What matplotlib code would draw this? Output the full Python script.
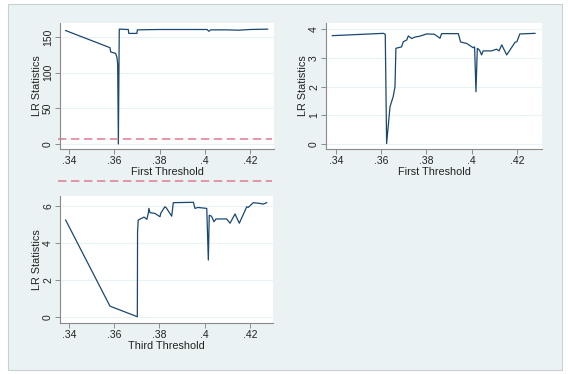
import matplotlib
matplotlib.use("Agg")
import matplotlib.pyplot as plt
from matplotlib.patches import Rectangle

plt.rcParams['font.family'] = ['Liberation Sans', 'DejaVu Sans']

# first threshold, LR statistics (top left)
x_first = [.3385, .3581, .3584, .3606, .3612, .3615, .3618, .3622, .3662, .3664, .3700, .3702,
           .3800, .4010, .4018, .4026, .4100, .4150, .4200, .4278]
lr_first = [159, 135, 129, 127, 121, 112, 0, 161, 160.5, 155, 155, 160,
            160.5, 160.5, 158, 160, 160, 159.5, 160.5, 161]

# first threshold, second search (top right)
x_first2 = [.3384, .3609, .3618, .3624, .3639, .3653, .3661, .3665, .3690, .3698, .3713, .3720,
            .3735, .3749, .3770, .3801, .3835, .3860, .3867, .3941, .3951, .3978, .4007, .4013,
            .4019, .4025, .4035, .4044, .4051, .4088, .4110, .4121, .4133, .4155, .4192, .4200,
            .4213, .4280]
lr_first2 = [3.77, 3.85, 3.82, 0.02, 1.30, 1.65, 1.99, 3.33, 3.38, 3.56, 3.62, 3.76,
             3.67, 3.72, 3.75, 3.83, 3.82, 3.68, 3.84, 3.84, 3.55, 3.50, 3.35, 3.38,
             1.82, 3.33, 3.26, 3.10, 3.24, 3.24, 3.30, 3.24, 3.45, 3.10, 3.54, 3.56,
             3.83, 3.85]

# third threshold (bottom left)
x_third = [.3385, .3581, .3702, .3703, .3706, .3720, .3732, .3744, .3751, .3753, .3758, .3780,
           .3802, .3806, .3824, .3830, .3854, .3861, .3950, .3957, .3970, .4009, .4016, .4020,
           .4030, .4041, .4050, .4097, .4112, .4134, .4153, .4186, .4192, .4215, .4244, .4258,
           .4274]
lr_third = [5.24, 0.59, 0.02, 4.61, 5.24, 5.33, 5.40, 5.28, 5.64, 5.87, 5.64, 5.60,
            5.42, 5.62, 5.96, 5.90, 5.45, 6.18, 6.20, 5.87, 5.92, 5.87, 3.08, 5.50,
            5.45, 5.15, 5.30, 5.30, 5.07, 5.57, 5.07, 5.96, 5.92, 6.18, 6.14, 6.10,
            6.18]

xticks = [.34, .36, .38, .40, .42]
xtick_labels = ['.34', '.36', '.38', '.4', '.42']
crit_lines = [7.35, -52]   # red dashed reference lines of the first graph

bg = '#eaf2f3'
navy = '#1a476f'

fig = plt.figure(figsize=(5.68, 3.74), dpi=100, facecolor='white')
fig.add_artist(Rectangle((8 / 568, 4 / 374), 554 / 568, 366 / 374, transform=fig.transFigure,
                         facecolor=bg, edgecolor='#c8d0d2', linewidth=0.8, zorder=-10))


def style(ax, yticks, xlabel, ylim, xlim):
    ax.set_facecolor('white')
    ax.set_xlim(xlim)
    ax.set_ylim(ylim)
    ax.set_xticks(xticks)
    ax.set_xticklabels(xtick_labels)
    ax.set_yticks(yticks)
    ax.set_yticklabels([str(t) for t in yticks], rotation=90, va='center')
    for s in ['top', 'right']:
        ax.spines[s].set_visible(False)
    for s in ['left', 'bottom']:
        ax.spines[s].set_color('#8a8a8a')
        ax.spines[s].set_linewidth(0.8)
    ax.tick_params(axis='both', labelsize=7.5, length=3.5, width=0.7, color='#8a8a8a',
                   pad=1.5, labelcolor='#222222')
    ax.grid(axis='y', color=bg, linewidth=0.8)
    ax.set_axisbelow(True)
    ax.set_xlabel(xlabel, fontsize=7.8, labelpad=0.5, color='#222222')
    ax.set_ylabel('LR Statistics', fontsize=7.8, labelpad=1, color='#222222')


ax1 = fig.add_axes([60 / 568, 1 - 149 / 374, 214 / 568, 126 / 374])
ax1.plot(x_first, lr_first, color=navy, linewidth=0.9)
for c in crit_lines:
    ax1.axhline(c, xmin=-0.01, xmax=0.99, color='#e07a8f', linestyle=(0, (5.5, 3)),
                linewidth=1.1, clip_on=False)
style(ax1, [0, 50, 100, 150], 'First Threshold', (-7, 169.6), (.336, .4306))

ax2 = fig.add_axes([326 / 568, 1 - 149 / 374, 216 / 568, 126 / 374])
ax2.plot(x_first2, lr_first2, color=navy, linewidth=0.9)
style(ax2, [0, 1, 2, 3, 4], 'First Threshold', (-0.17, 4.21), (.3356, .4311))

ax3 = fig.add_axes([60 / 568, 1 - 323 / 374, 213 / 568, 127 / 374])
ax3.plot(x_third, lr_third, color=navy, linewidth=0.9)
style(ax3, [0, 2, 4, 6], 'Third Threshold', (-0.32, 6.54), (.336, .4302))

fig.savefig('out.png', dpi=100, facecolor='white')
